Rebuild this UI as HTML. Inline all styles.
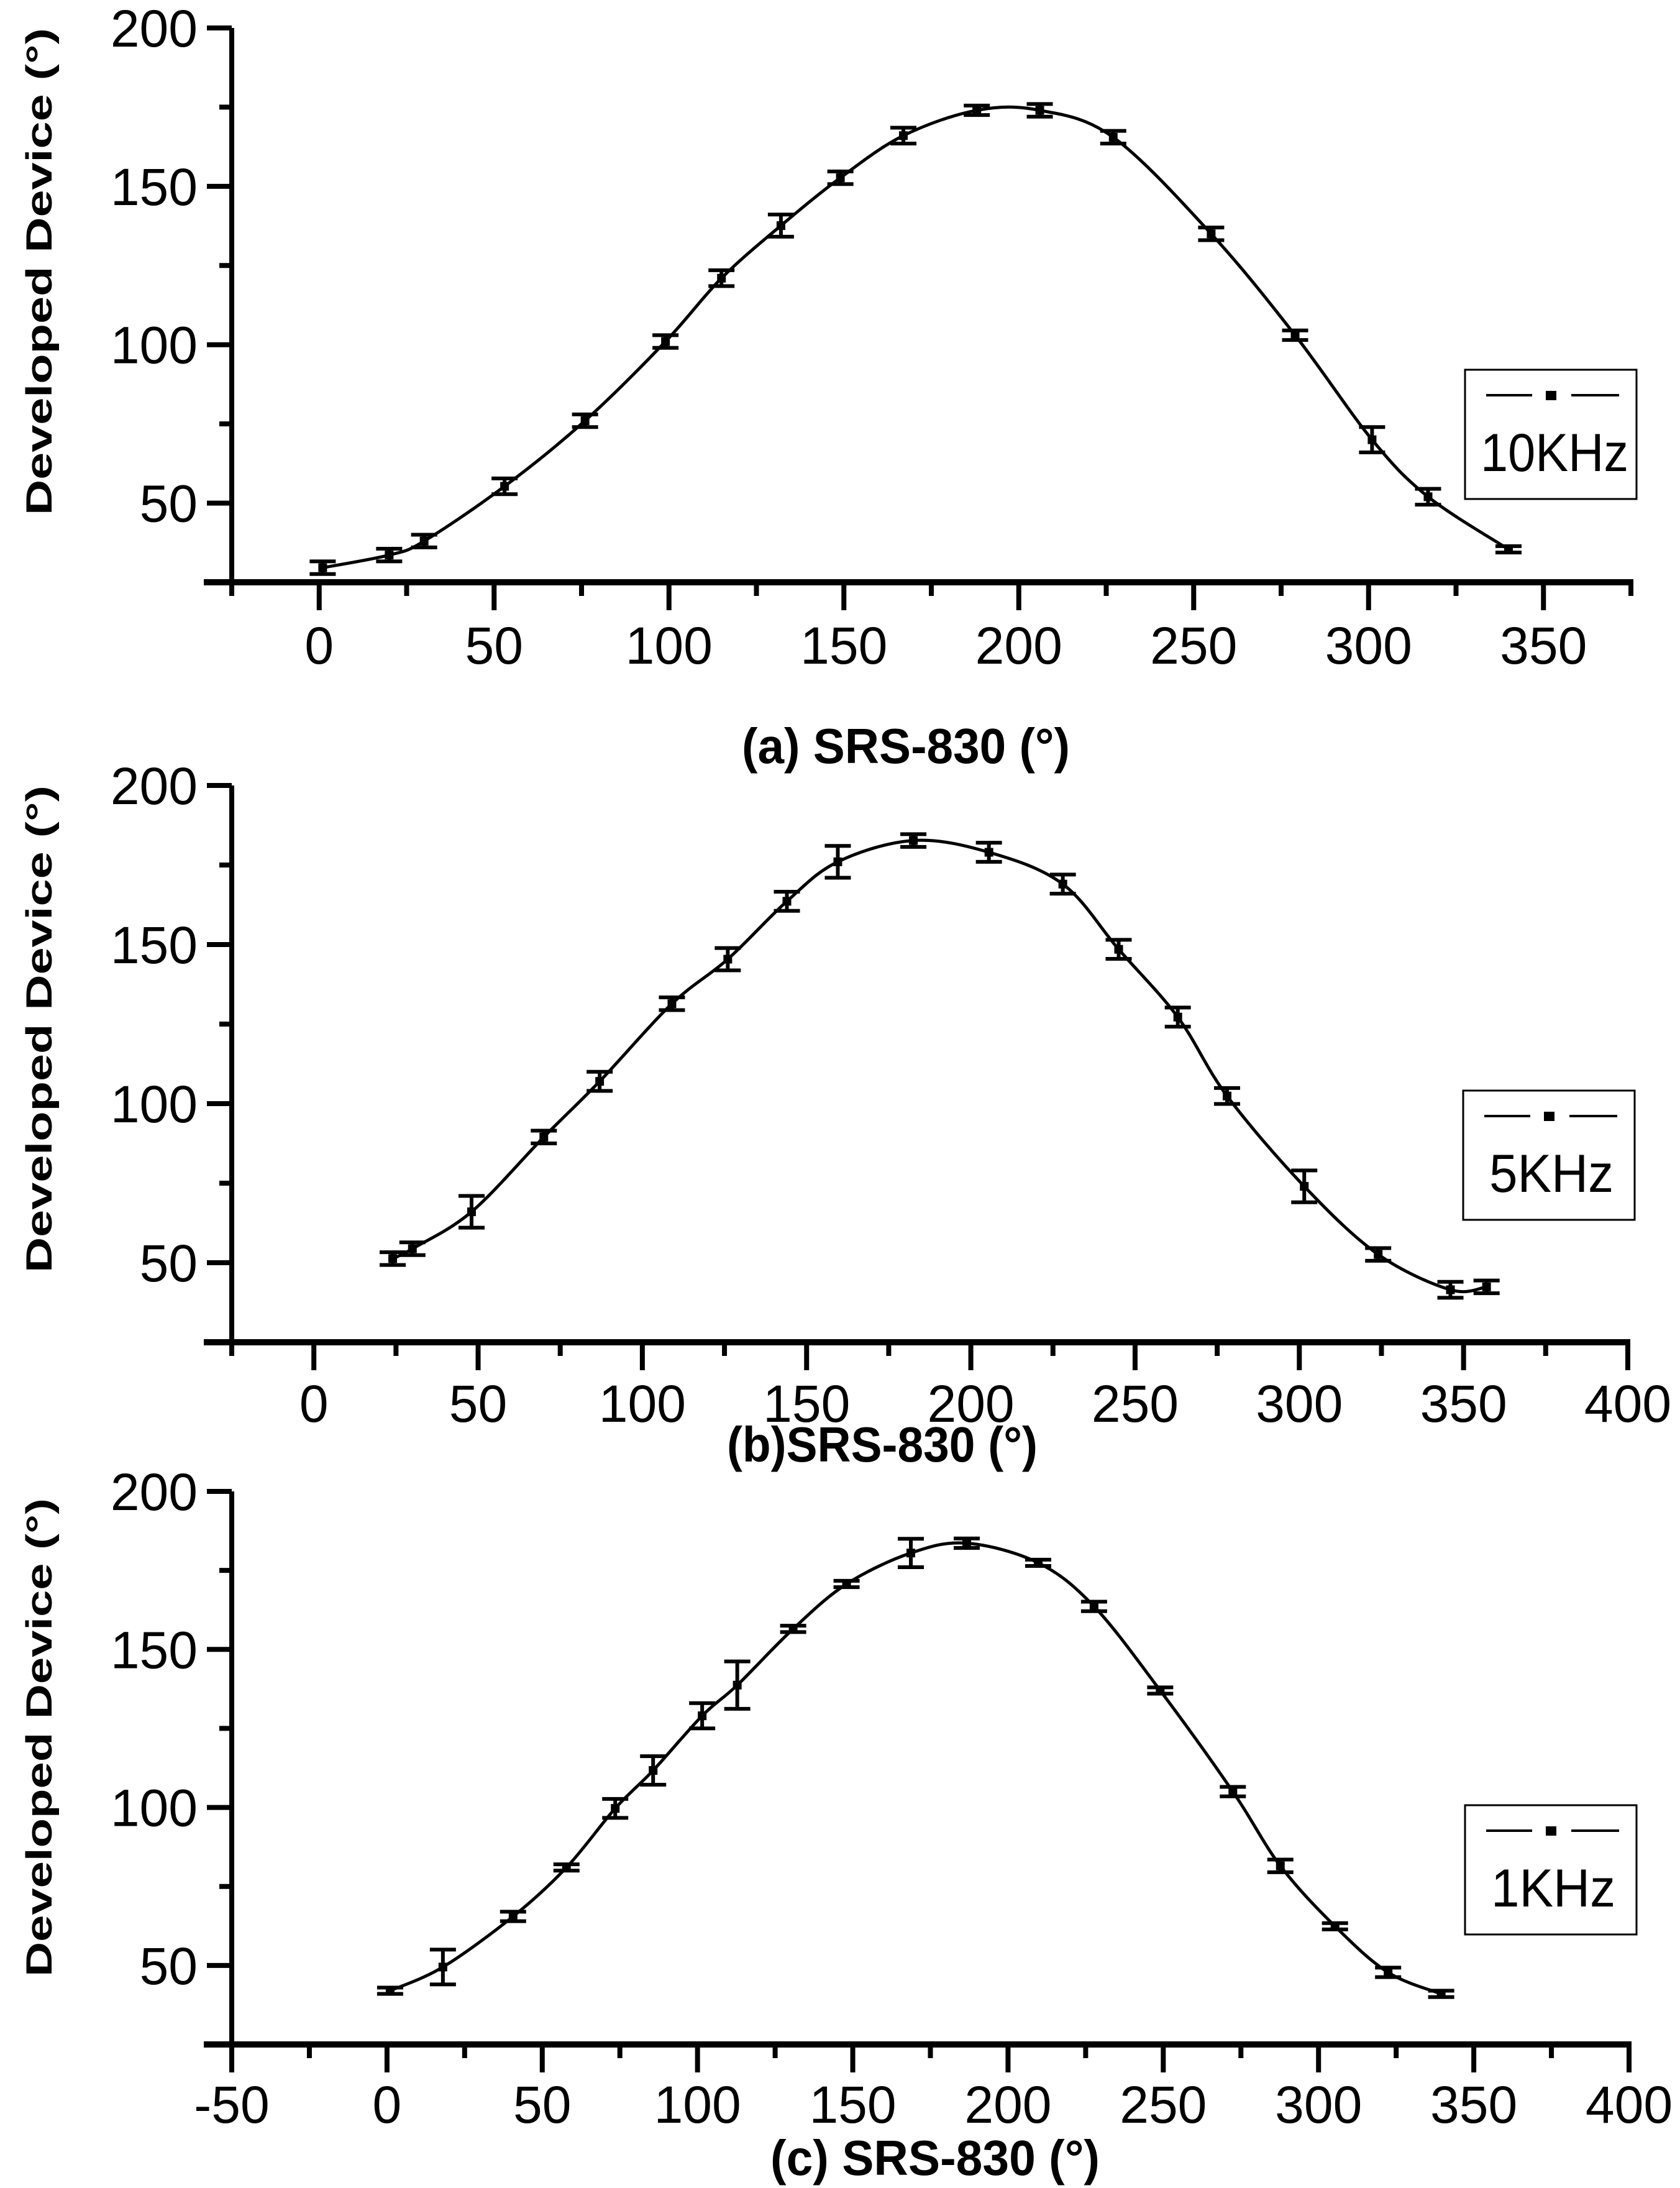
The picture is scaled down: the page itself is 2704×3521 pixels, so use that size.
<!DOCTYPE html>
<html><head><meta charset="utf-8"><title>Developed Device vs SRS-830</title>
<style>
html,body{margin:0;padding:0;background:#fff;}
svg{display:block;}
text{font-family:"Liberation Sans",sans-serif;fill:#000;}
</style></head>
<body>
<svg id="fig" width="2704" height="3521" viewBox="0 0 2704 3521" xmlns="http://www.w3.org/2000/svg"></svg>
<script>
// Panel (a) 10KHz
const xA = [1,20,30,53,76,99,115,132,149,167,188,206,227,255,279,301,317,340];
const yA = [29.6,33.6,38,55.3,76,101,121,137.6,152.7,166,174,174,165.5,135,103,70,52,35.4];
const eA = [2,2,2,2.5,2,2,2.5,3.5,2,2.5,1.5,2,2,2,1.5,4,2.5,1];
const xTicksA = [0,50,100,150,200,250,300,350];
// Panel (b) 5KHz
const xB = [24,30,48,70,87,109,126,144,159.5,182.5,205.5,228,245,263,278,301.5,324,346,357];
const yB = [51.3,54.4,66,89.5,107,131.4,145.4,163.6,176,182.7,179,169,148.5,127.2,102.4,74,52.6,41.5,42.4];
const eB = [2,2,5,2,3,2,3.5,3,5,2,3,3,3,3,2.5,5,2,2.5,2];
const xTicksB = [0,50,100,150,200,250,300,350,400];
// Panel (c) 1KHz
const xC = [1,18,40.6,57.8,73.5,85.7,101.5,112.8,130.8,148,168.7,186.7,209.7,227.7,249,272.4,287.7,305.3,322.4,339.5];
const yC = [42,49.5,65.5,81,99.7,111.7,129,138.7,156.5,170.7,180.5,183.6,177.4,163.6,137,105,81.5,62.4,47.8,41];
const eC = [1,5.5,1.5,1,3,4.5,4,7.5,1,1,4.5,1.5,1,1.5,1,1.5,2,1,1.5,1];
const xTicksC = [-50,0,50,100,150,200,250,300,350,400];
const yTicks = [50,100,150,200];
const legendLabels = ["10KHz","5KHz","1KHz"];

const NS = "http://www.w3.org/2000/svg";
const svg = document.getElementById('fig');
function mk(tag, attrs, parent){
  const e = document.createElementNS(NS, tag);
  for (const k in attrs) e.setAttribute(k, attrs[k]);
  (parent||svg).appendChild(e);
  return e;
}

function panel(cfg){
  const g = mk('g', {});
  
  
  const sx = v => cfg.L + (v - cfg.xmin) / (cfg.xmax - cfg.xmin) * (cfg.R - cfg.L);
  const sy = v => cfg.B - (v - cfg.ymin) / (cfg.ymax - cfg.ymin) * (cfg.B - cfg.T);
  const ya = mk('line', {x1:cfg.L, y1:cfg.T, x2:cfg.L, y2:cfg.B+5, stroke:'#000','stroke-width':8}, g);
  
  
  const xa = mk('line', {x1:cfg.L-45, y1:cfg.B, x2:cfg.R+4, y2:cfg.B, stroke:'#000','stroke-width':10}, g);
  
  
  for (let v = cfg.ymin; v <= cfg.ymax + 0.01; v += 25){
    const major = yTicks.includes(v);
    const t = mk('line', {x1:cfg.L - (major?40:20), y1:sy(v), x2:cfg.L, y2:sy(v), stroke:'#000','stroke-width':8}, g);
    
    
  }
  yTicks.forEach(v => {
    const t = mk('text', {x:cfg.L-55, y:sy(v)+30, 'font-size':84, 'text-anchor':'end'}, g);
    t.textContent = v;
    
    
  });
  for (let v = cfg.xmin; v <= cfg.xmax + 0.01; v += 25){
    const major = cfg.xt.includes(v);
    const t = mk('line', {x1:sx(v), y1:cfg.B, x2:sx(v), y2:cfg.B + (major?45:22), stroke:'#000','stroke-width':8}, g);
    
    
  }
  cfg.xt.forEach(v => {
    const t = mk('text', {x:sx(v), y:cfg.B + cfg.xlabOff, 'font-size':84, 'text-anchor':'middle'}, g);
    t.textContent = v;
    
    
  });
  const P = cfg.xs.map((x,i)=>[sx(x), sy(cfg.ys[i])]);
  let d = 'M' + P[0][0] + ',' + P[0][1];
  for (let i=0;i<P.length-1;i++){
    const p0 = P[Math.max(0,i-1)], p1 = P[i], p2 = P[i+1], p3 = P[Math.min(P.length-1,i+2)];
    const c1 = [p1[0]+(p2[0]-p0[0])/6, p1[1]+(p2[1]-p0[1])/6];
    const c2 = [p2[0]-(p3[0]-p1[0])/6, p2[1]-(p3[1]-p1[1])/6];
    d += ' C'+c1[0]+','+c1[1]+' '+c2[0]+','+c2[1]+' '+p2[0]+','+p2[1];
  }
  const ln = mk('path', {d:d, fill:'none', stroke:'#000', 'stroke-width':5}, g);
  
  
  cfg.xs.forEach((x,i)=>{
    const cx = sx(x), yt = sy(cfg.ys[i]+cfg.es[i]), yb = sy(cfg.ys[i]-cfg.es[i]);
    const eb = mk('path', {d:'M'+(cx-21)+','+yt+' H'+(cx+21)+' M'+cx+','+yt+' V'+yb+' M'+(cx-21)+','+yb+' H'+(cx+21), stroke:'#000','stroke-width':6, fill:'none'}, g);
    
    
    const m = mk('rect', {x:cx-7, y:sy(cfg.ys[i])-7, width:14, height:14, fill:'#000'}, g);
    
    
  });
  const yt = mk('text', {x:0, y:0, 'font-size':58, 'font-weight':'bold', 'text-anchor':'middle', textLength:cfg.ytLen, lengthAdjust:'spacingAndGlyphs', transform:'translate(83,'+cfg.ytC+') rotate(-90)'}, g);
  yt.textContent = 'Developed Device   (°)';
  
  
  const xt = mk('text', {x:cfg.xtX, y:cfg.xtY, 'font-size':80, 'font-weight':'bold', 'text-anchor':'middle', textLength:cfg.xtLen, lengthAdjust:'spacingAndGlyphs'}, g);
  xt.textContent = cfg.xtitle;
  
  
  const lg = mk('g', {}, g);
  
  
  const bx = cfg.lg[0], by = cfg.lg[1];
  mk('rect', {x:bx, y:by, width:276, height:208, fill:'#fff', stroke:'#000','stroke-width':3}, lg);
  mk('line', {x1:bx+34, y1:by+41, x2:bx+108, y2:by+41, stroke:'#000','stroke-width':4}, lg);
  mk('rect', {x:bx+130, y:by+34, width:17, height:15, fill:'#000'}, lg);
  mk('line', {x1:bx+171, y1:by+41, x2:bx+248, y2:by+41, stroke:'#000','stroke-width':4}, lg);
  const lt = mk('text', {x:bx+cfg.lgTx, y:by+163, 'font-size':86, textLength:cfg.lgLen, lengthAdjust:'spacingAndGlyphs'}, lg);
  lt.textContent = cfg.label;
  
  
}

panel({id:'a', L:373, R:2625, T:45, B:937, xmin:-25, xmax:375, ymin:25, ymax:200,
  xs:xA, ys:yA, es:eA, xt:xTicksA, xlabOff:131,
  ytC:437, ytLen:784, xtitle:'(a) SRS-830 (°)', xtX:1458, xtY:1228, xtLen:528,
  lg:[2358,595], lgTx:25, lgLen:238, label:legendLabels[0]});
panel({id:'b', L:373, R:2620, T:1264, B:2160, xmin:-25, xmax:400, ymin:25, ymax:200,
  xs:xB, ys:yB, es:eB, xt:xTicksB, xlabOff:128,
  ytC:1656, ytLen:784, xtitle:'(b)SRS-830 (°)', xtX:1420, xtY:2352, xtLen:500,
  lg:[2355,1755], lgTx:42, lgLen:200, label:legendLabels[1]});
panel({id:'c', L:373, R:2622, T:2400, B:3290, xmin:-50, xmax:400, ymin:25, ymax:200,
  xs:xC, ys:yC, es:eC, xt:xTicksC, xlabOff:126,
  ytC:2796, ytLen:770, xtitle:'(c) SRS-830 (°)', xtX:1505, xtY:3500, xtLen:530,
  lg:[2358,2905], lgTx:42, lgLen:200, label:legendLabels[2]});
</script>
</body></html>
